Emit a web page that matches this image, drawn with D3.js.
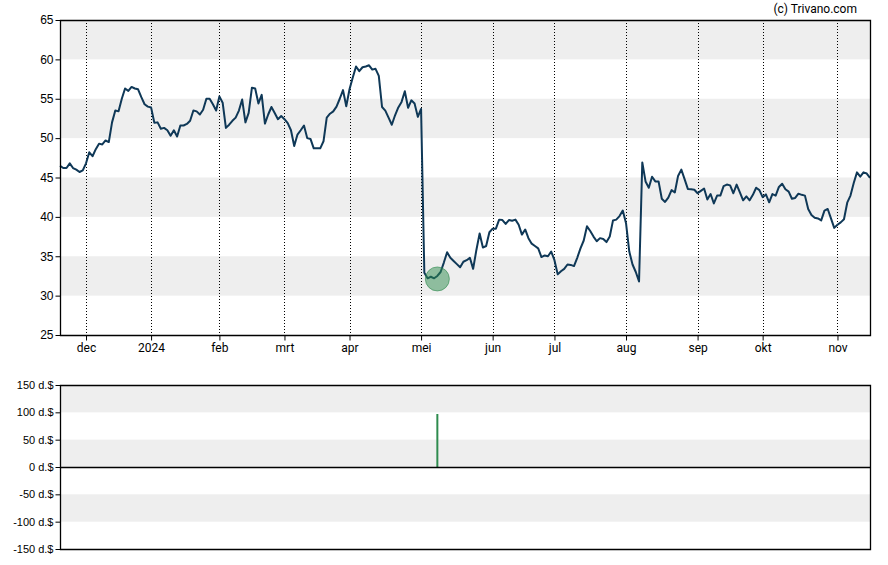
<!DOCTYPE html>
<html>
<head>
<meta charset="utf-8">
<script src="https://cdn.jsdelivr.net/npm/d3@7"></script>
<style>
  html, body { margin: 0; padding: 0; background: #fff; }
  svg { display: block; }
</style>
</head>
<body>
<svg id="chart" width="888" height="565"></svg>
<script>
// ---- Data (one value per trading day, Nov 20 2023 .. Nov 15 2024) ----
const prices = [
  46.5, 46.2, 46.2, 46.8, 46.2, 46.0, 45.7, 45.9, 46.8, 48.2,
  47.7, 48.6, 49.3, 49.2, 49.7, 49.5, 52.0, 53.5, 53.4, 55.0,
  56.3, 56.0, 56.5, 56.3, 56.2, 55.2, 54.3, 54.0, 53.9, 51.95,
  52.0, 51.2, 51.3, 51.0, 50.3, 51.0, 50.2, 51.6, 51.6, 51.8,
  52.2, 53.5, 53.4, 53.0, 53.6, 55.0, 55.0, 54.3, 53.5, 55.3,
  54.5, 51.3, 51.7, 52.2, 52.6, 53.5, 54.9, 52.0, 53.2, 56.4,
  56.3, 54.4, 55.5, 51.85, 53.0, 53.95, 53.2, 52.4, 52.8, 52.4,
  51.9, 51.0, 49.0, 50.45, 51.0, 51.6, 50.0, 49.9, 48.7, 48.7,
  48.7, 49.6, 52.6, 53.1, 53.4, 54.0, 55.0, 56.1, 54.05, 56.2,
  57.7, 59.1, 58.5, 59.0, 59.1, 59.25, 58.7, 58.8, 57.9, 53.95,
  53.5, 52.6, 51.7, 52.9, 53.9, 54.6, 55.95, 53.85, 54.8, 54.4,
  52.7, 53.7, 32.9, 32.2, 32.4, 32.2, 32.5, 33.0, 34.2, 35.5,
  34.8, 34.4, 34.0, 33.6, 34.3, 34.5, 34.8, 33.4, 35.8, 37.9,
  36.1, 36.3, 38.05, 38.5, 38.5, 39.65, 39.6, 39.1, 39.6, 39.5,
  39.65, 39.0, 37.75, 38.4, 37.3, 36.6, 36.3, 36.0, 34.9, 35.1,
  35.0, 35.6, 34.5, 32.7, 33.1, 33.4, 33.95, 33.9, 33.75, 34.8,
  36.0, 37.0, 38.8, 38.2, 37.5, 36.9, 37.3, 37.2, 36.8, 37.5,
  39.55, 39.65, 40.1, 40.8, 39.2, 35.6, 33.95, 33.0, 31.8, 46.9,
  44.5, 43.7, 45.1, 44.5, 44.5, 42.3, 41.9, 42.45, 43.4, 43.1,
  45.2, 46.0, 44.8, 43.55, 43.5, 43.45, 43.0, 43.3, 43.6, 42.2,
  42.9, 41.7, 42.7, 42.7, 43.9, 44.1, 44.0, 43.0, 44.1, 43.1,
  42.1, 42.6, 42.1, 42.8, 43.7, 43.4, 42.5, 42.85, 41.85, 42.9,
  42.7, 43.8, 44.2, 43.5, 43.2, 42.3, 42.4, 42.95, 42.8, 42.7,
  41.0, 40.25, 39.9, 39.8, 39.55, 40.8, 41.0, 39.8, 38.6, 39.0,
  39.3, 39.7, 41.8, 42.7, 44.3, 45.65, 45.1, 45.65, 45.5, 44.95
];

// month ticks: trading-day index of first trading day + label
const monthTickIndex = [8, 28, 49, 69, 89, 111, 133, 152, 174, 196, 216, 239];
const monthTickLabel = ["dec", "2024", "feb", "mrt", "apr", "mei", "jun", "jul", "aug", "sep", "okt", "nov"];

const priceTicks = [25, 30, 35, 40, 45, 50, 55, 60, 65];
const volumeTicks = [-150, -100, -50, 0, 50, 100, 150];

// insider buy signal
const signalIndex = [116];
const signalAmount = [97];   // thousand dollars

// ---- Layout ----
const svg = d3.select("#chart");
const L = 60, R = 870;
const top1 = 20, bot1 = 335;
const top2 = 385, bot2 = 549;

const x = d3.scaleLinear().domain([0, prices.length - 1]).range([L, R]);
const y = d3.scaleLinear().domain([25, 65]).range([bot1, top1]);
const y2 = d3.scaleLinear().domain([-150, 150]).range([bot2, top2]);

const band = "#eeeeee";

// ---- Top chart bands ----
const bandPairs1 = [[30, 35], [40, 45], [50, 55], [60, 65]];
svg.append("g").selectAll("rect").data(bandPairs1).join("rect")
  .attr("x", L).attr("width", R - L)
  .attr("y", d => y(d[1])).attr("height", d => y(d[0]) - y(d[1]))
  .attr("fill", band);

// vertical dotted gridlines
svg.append("g").selectAll("line").data(monthTickIndex).join("line")
  .attr("x1", d => Math.round(x(d)) + 0.5).attr("x2", d => Math.round(x(d)) + 0.5)
  .attr("y1", top1).attr("y2", bot1)
  .attr("stroke", "#000").attr("stroke-width", 1)
  .attr("stroke-dasharray", "1,2");

// price line
const line = d3.line().x((d, i) => x(i)).y(d => y(d));
svg.append("path").datum(prices)
  .attr("d", line)
  .attr("fill", "none")
  .attr("stroke", "#0f3857")
  .attr("stroke-width", 2)
  .attr("stroke-linejoin", "round");

// signal marker
svg.append("g").selectAll("circle").data(signalIndex).join("circle")
  .attr("cx", d => x(d)).attr("cy", d => y(prices[d]) + 3)
  .attr("r", 12)
  .attr("fill", "rgba(46,139,78,0.5)")
  .attr("stroke", "rgba(46,139,78,0.6)")
  .attr("stroke-width", 1);

// frame top chart
svg.append("path")
  .attr("d", `M${L + 0.5},${top1 + 0.5}H${R + 0.5}V${bot1 + 0.5}H${L + 0.5}Z`)
  .attr("fill", "none").attr("stroke", "#000").attr("stroke-width", 1.3);

// y axis top
const yAxis = d3.axisLeft(y).tickValues(priceTicks).tickSize(5).tickPadding(2);
const gy = svg.append("g").attr("transform", `translate(${L + 0.5},0)`).call(yAxis);
gy.select(".domain").remove();
gy.selectAll("text").attr("font-family", "'Liberation Sans', Arial, sans-serif")
  .attr("font-size", 12).attr("fill", "#000");

// x axis top
const xAxis = d3.axisBottom(x).tickValues(monthTickIndex)
  .tickFormat((d, i) => monthTickLabel[i]).tickSize(5).tickPadding(3);
const gx = svg.append("g").attr("transform", `translate(0,${bot1 + 0.5})`).call(xAxis);
gx.select(".domain").remove();
gx.selectAll("text").attr("font-family", "Roboto, sans-serif")
  .attr("font-size", 12).attr("fill", "#000");

// ---- Bottom chart ----
const bandPairs2 = [[100, 150], [0, 50], [-100, -50]];
svg.append("g").selectAll("rect").data(bandPairs2).join("rect")
  .attr("x", L).attr("width", R - L)
  .attr("y", d => y2(d[1])).attr("height", d => y2(d[0]) - y2(d[1]))
  .attr("fill", band);

svg.append("g").selectAll("line").data(signalIndex).join("line")
  .attr("x1", d => x(d)).attr("x2", d => x(d))
  .attr("y1", y2(0)).attr("y2", (d, i) => y2(signalAmount[i]))
  .attr("stroke", "#2e8b4e").attr("stroke-width", 2);

svg.append("line")
  .attr("x1", L).attr("x2", R).attr("y1", y2(0) + 0.5).attr("y2", y2(0) + 0.5)
  .attr("stroke", "#000").attr("stroke-width", 1.3);

svg.append("path")
  .attr("d", `M${L + 0.5},${top2 + 0.5}H${R + 0.5}V${bot2 + 0.5}H${L + 0.5}Z`)
  .attr("fill", "none").attr("stroke", "#000").attr("stroke-width", 1.3);

const yAxis2 = d3.axisLeft(y2).tickValues(volumeTicks).tickSize(5).tickPadding(2)
  .tickFormat(d => d + " d.$");
const gy2 = svg.append("g").attr("transform", `translate(${L + 0.5},0)`).call(yAxis2);
gy2.select(".domain").remove();
gy2.selectAll("text").attr("font-family", "'Liberation Sans', Arial, sans-serif")
  .attr("font-size", 11).attr("fill", "#000");

// watermark
svg.append("text")
  .attr("x", 857).attr("y", 13)
  .attr("text-anchor", "end")
  .attr("font-family", "Roboto, sans-serif")
  .attr("font-size", 12)
  .attr("fill", "#000")
  .text("(c) Trivano.com");
</script>
</body>
</html>
